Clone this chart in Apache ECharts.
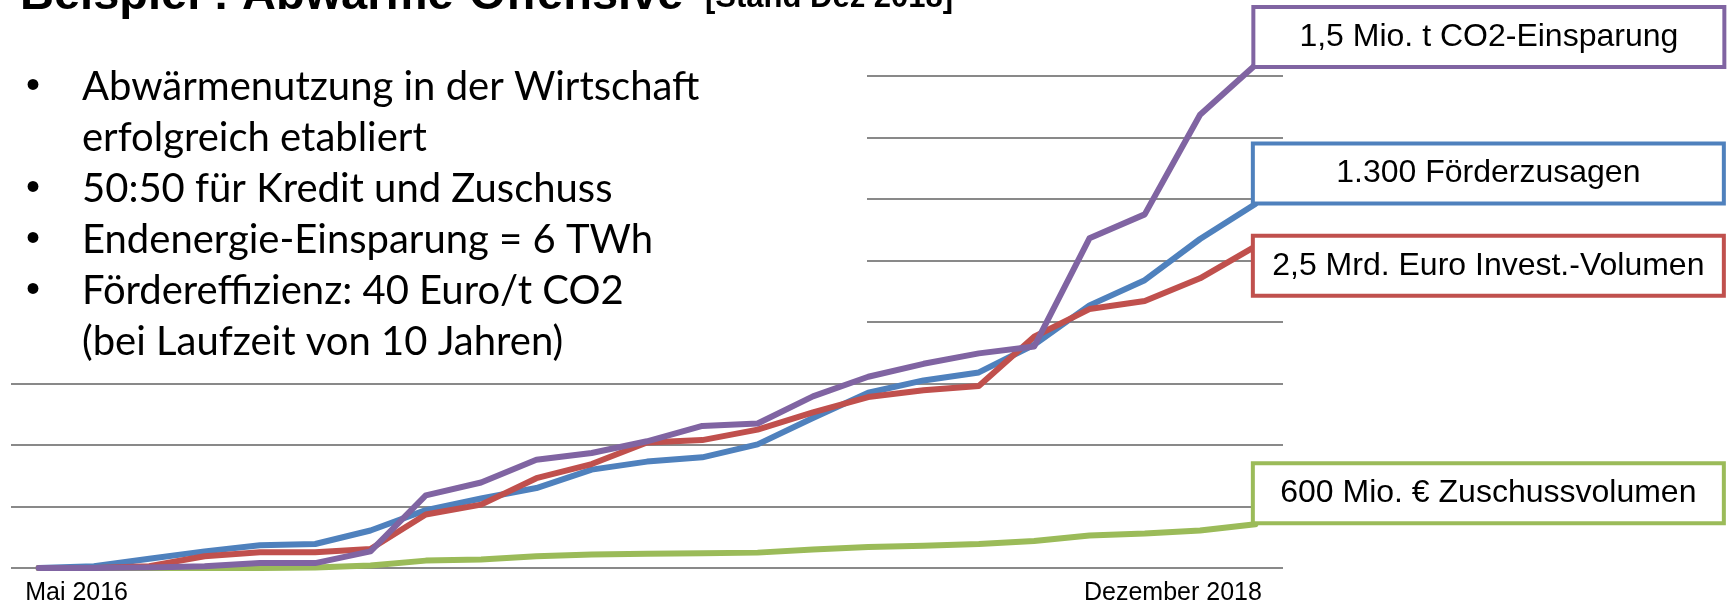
<!DOCTYPE html>
<html><head><meta charset="utf-8">
<script src="https://cdn.jsdelivr.net/npm/echarts@6/dist/echarts.min.js"></script>
<style>html,body{margin:0;padding:0;background:#fff}#c{width:1731px;height:605px}</style>
</head><body><div id="c"></div>
<script>
// ---- data ----
const categories = ['Mai 2016','','','','','','','','','','','','','','','','','','','','','','Dezember 2018'];
const seriesNames = ['1.300 Förderzusagen', '2,5 Mrd. Euro Invest.-Volumen', '600 Mio. € Zuschussvolumen', '1,5 Mio. t CO2-Einsparung'];
const foerderzusagen = [0, 0.03, 0.15, 0.27, 0.37, 0.39, 0.61, 0.94, 1.13, 1.30, 1.60, 1.73, 1.80, 2.01, 2.44, 2.85, 3.05, 3.18, 3.63, 4.27, 4.68, 5.35, 5.92];
const investVolumen = [0, 0, 0.03, 0.19, 0.255, 0.255, 0.31, 0.87, 1.03, 1.46, 1.69, 2.04, 2.08, 2.25, 2.53, 2.78, 2.89, 2.96, 3.76, 4.21, 4.34, 4.71, 5.23];
const zuschussVolumen = [0, 0, 0, 0, 0, 0.01, 0.04, 0.12, 0.14, 0.19, 0.22, 0.23, 0.24, 0.25, 0.30, 0.34, 0.36, 0.39, 0.44, 0.53, 0.56, 0.61, 0.71];
const co2Einsparung = [0, 0, 0.01, 0.03, 0.08, 0.08, 0.27, 1.18, 1.39, 1.76, 1.87, 2.06, 2.31, 2.35, 2.79, 3.11, 3.32, 3.49, 3.60, 5.36, 5.75, 7.37, 8.18];
const titleMain = 'Beispiel : Abwärme-Offensive';
const titleSub = '[Stand Dez 2018]';
const bulletLines = ['Abwärmenutzung in der Wirtschaft', 'erfolgreich etabliert', '50:50 für Kredit und Zuschuss', 'Endenergie-Einsparung = 6 TWh', 'Fördereffizienz: 40 Euro/t CO2', '(bei Laufzeit von 10 Jahren)'];
const bulletFlags = [true, false, true, true, true, false];

// ---- style ----
const colors = ['#4F81BD', '#C0504D', '#9BBB59', '#8064A2'];
const boxDy = [-58, -8, -58.5, null];
const seriesData = [foerderzusagen, investVolumen, zuschussVolumen, co2Einsparung];
const boxFont = '"Liberation Sans", Arial, sans-serif';

function boxLabel(name, color) {
  return {
    show: true,
    formatter: function () { return '{t|' + name + '}'; },
    backgroundColor: '#ffffff', borderColor: color, borderWidth: 4,
    padding: [11, 4, 11, 4],
    rich: { t: { width: 459, align: 'center', fontSize: 32, lineHeight: 34, fontFamily: boxFont, color: '#000' } }
  };
}

function makeSeries(i) {
  const data = seriesData[i];
  const color = colors[i];
  const name = seriesNames[i];
  const s = {
    type: 'line', name: name, data: data, symbol: 'none', clip: false,
    lineStyle: { color: color, width: 6, cap: 'round', join: 'round' },
    itemStyle: { color: color },
    emphasis: { disabled: true },
    animation: false
  };
  if (boxDy[i] === null) {
    s.endLabel = Object.assign(boxLabel(name, color), { align: 'left', verticalAlign: 'bottom', distance: 0, valueAnimation: false });
  } else {
    s.markPoint = {
      symbol: 'rect', symbolSize: 1, silent: true, animation: false,
      itemStyle: { color: 'rgba(0,0,0,0)' },
      data: [{ coord: [data.length - 1, data[data.length - 1]] }],
      label: Object.assign(boxLabel(name, color), { position: [0, boxDy[i]] })
    };
  }
  return s;
}

const graphics = [
  { type: 'rect', z: 10, shape: { x: 0, y: 20, width: 867, height: 332 }, style: { fill: '#ffffff' } },
  { type: 'text', z: 11, x: 20, y: -4.3, style: { text: titleMain, font: 'bold 47px "Liberation Sans", Arial, sans-serif', fill: '#000', verticalAlign: 'middle' } },
  { type: 'text', z: 11, x: 705, y: -1.7, style: { text: titleSub, font: 'bold 31px "Liberation Sans", Arial, sans-serif', fill: '#000', verticalAlign: 'middle' } }
];
bulletLines.forEach(function (t, i) {
  const base = 102.5 + 51 * i;
  graphics.push({ type: 'text', z: 11, x: 82, y: base - 15.5, style: { text: t, font: '40px Lato, sans-serif', fill: '#000', verticalAlign: 'middle' } });
  if (bulletFlags[i]) {
    graphics.push({ type: 'text', z: 11, x: 33, y: base - 15.5, style: { text: '•', font: '40px "Liberation Sans", Arial, sans-serif', fill: '#000', align: 'center', verticalAlign: 'middle' } });
  }
});

const chart = echarts.init(document.getElementById('c'), null, { renderer: 'canvas' });
chart.setOption({
  animation: false,
  backgroundColor: '#ffffff',
  grid: { left: 11, right: 448, top: 76, bottom: 37, containLabel: false, outerBoundsMode: 'none' },
  xAxis: {
    type: 'category', data: categories, boundaryGap: true,
    axisLine: { show: false }, axisTick: { show: false },
    axisLabel: {
      interval: 0, margin: 13, color: '#000', fontSize: 25, fontFamily: boxFont,
      formatter: function (v, idx) {
        if (idx === 0) return '{l|' + v + '}';
        if (idx === categories.length - 1) return '{r|' + v + '}';
        return '';
      },
      rich: {
        l: { width: 27, align: 'left', fontSize: 25, fontFamily: boxFont, color: '#000' },
        r: { width: 13, align: 'right', fontSize: 25, fontFamily: boxFont, color: '#000' }
      }
    }
  },
  yAxis: {
    type: 'value', min: 0, max: 8, interval: 1,
    axisLabel: { show: false }, axisLine: { show: false }, axisTick: { show: false },
    splitLine: { show: true, lineStyle: { color: '#898989', width: 2 } }
  },
  series: [makeSeries(0), makeSeries(1), makeSeries(2), makeSeries(3)],
  graphic: graphics
});
</script></body></html>
